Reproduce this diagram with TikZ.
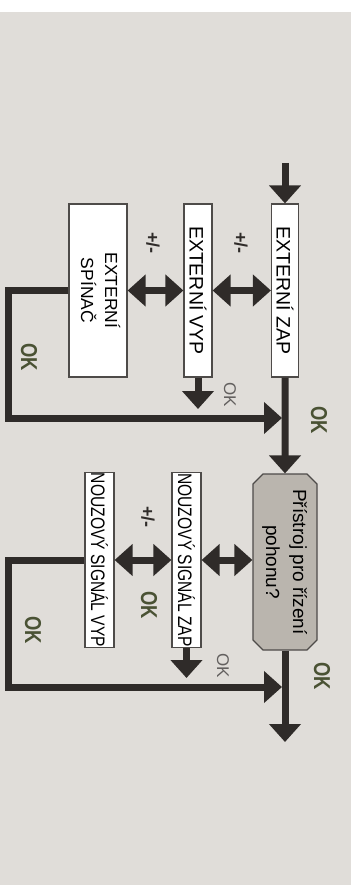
\documentclass[tikz,border=0pt]{standalone}
\usepackage{fontspec}
\setmainfont{Liberation Sans}
\usepackage{xcolor}
\usetikzlibrary{arrows.meta,shapes.misc}

\definecolor{paper}{HTML}{E0DDD9}
\definecolor{boxgray}{HTML}{BAB5AE}
\definecolor{okgreen}{HTML}{4A5234}
\definecolor{ink}{HTML}{2F2B29}
\newcommand{\vtext}[1]{\rotatebox{-90}{#1}}
\newcommand{\twolines}[2]{\begin{tabular}{@{}c@{}}#1\\#2\end{tabular}}
\newcommand{\oktext}{\scalebox{0.8}[1]{OK}}

\begin{document}
\begin{tikzpicture}[x=1pt,y=-1pt]
			\tikzstyle{block}=[draw=ink!85, line width=1.2pt, fill=white, inner sep=0pt, font=\fontsize{19.5}{22}\selectfont]
			\tikzstyle{query}=[chamfered rectangle, chamfered rectangle xsep=5pt, chamfered rectangle ysep=5pt, draw=ink!85, line width=1.2pt, fill=boxgray, inner sep=0pt, font=\fontsize{19}{27}\selectfont]
			\tikzstyle{okbig}=[text=okgreen, font=\bfseries\fontsize{23}{23}\selectfont, rotate=-90]
			\tikzstyle{oksmall}=[text=ink!75, font=\fontsize{17}{17}\selectfont, rotate=-90]
			\tikzstyle{plusminus}=[text=ink, font=\bfseries\fontsize{18}{18}\selectfont, rotate=-90]
			\tikzset{edge/.style = {draw=ink, line width=7pt, -{Triangle[length=18pt,width=31pt]}}}
			\tikzset{both/.style = {draw=ink, line width=7pt, {Triangle[length=18pt,width=31pt]}-{Triangle[length=18pt,width=31pt]}}}
			
			\useasboundingbox (0,0) rectangle (358,885);
			\fill[white] (0,0) rectangle (358,885);
			\fill[paper] (0,12) rectangle (351,885);
			
			% upper group
			\node[block, minimum width=27pt, minimum height=173pt](extzap) at (285,290.5) {\vtext{EXTERNÍ ZAP}};
			\node[block, minimum width=28pt, minimum height=173pt](extvyp) at (198,290.5) {\vtext{EXTERNÍ VYP}};
			\node[block, minimum width=58pt, minimum height=173pt, font=\fontsize{17.5}{24}\selectfont](extspinac) at (98,290.5) {\vtext{\twolines{EXTERNÍ}{SPÍNAČ}}};
			
			% lower group
			\node[query, minimum width=60pt, minimum height=176pt](pristroj) at (285,562) {\vtext{\twolines{Přístroj pro řízení}{pohonu?}}};
			\node[block, minimum width=29pt, minimum height=175pt](nouzap) at (186.5,560) {\vtext{\scalebox{0.8}[1]{NOUZOVÝ SIGNÁL ZAP}}};
			\node[block, minimum width=29pt, minimum height=175pt](nouvyp) at (99.5,560) {\vtext{\scalebox{0.8}[1]{NOUZOVÝ SIGNÁL VYP}}};
			
			\coordinate (start) at (285,163);
			\coordinate (finish) at (285,742);
			\coordinate (vypout) at (198,409);
			\coordinate (zapout) at (186.5,678);
			\coordinate (loop1) at (8,418);
			\coordinate (join1) at (282,418);
			\coordinate (loop2) at (8,687);
			\coordinate (join2) at (282,687);
			
			\draw[edge](start) to (extzap);
			\draw[edge](extzap) to (pristroj);
			\draw[edge](pristroj) to (finish);
			\draw[both](extvyp) to (extzap);
			\draw[both](extspinac) to (extvyp);
			\draw[both](nouzap) to (pristroj.west |- nouzap.east);
			\draw[both](nouvyp) to (nouzap);
			\draw[edge](extvyp) to (vypout);
			\draw[edge](nouzap) to (zapout);
			\draw[edge](extspinac.west) -| (loop1) -- (join1);
			\draw[edge](nouvyp.west) -| (loop2) -- (join2);
			
			\node[plusminus](pm1) at (241,243) {+/-};
			\node[plusminus](pm2) at (153,243) {+/-};
			\node[plusminus](pm3) at (148,517) {+/-};
			
			\node[okbig](ok1) at (319,420) {\oktext};
			\node[okbig](ok2) at (29,357) {\oktext};
			\node[okbig](ok3) at (322,676) {\oktext};
			\node[okbig](ok4) at (33,630) {\oktext};
			\node[okbig](ok5) at (149,605) {\oktext};
			\node[oksmall](ok6) at (230,395) {OK};
			\node[oksmall](ok7) at (223,666) {OK};
			
			\end{tikzpicture}
\end{document}
